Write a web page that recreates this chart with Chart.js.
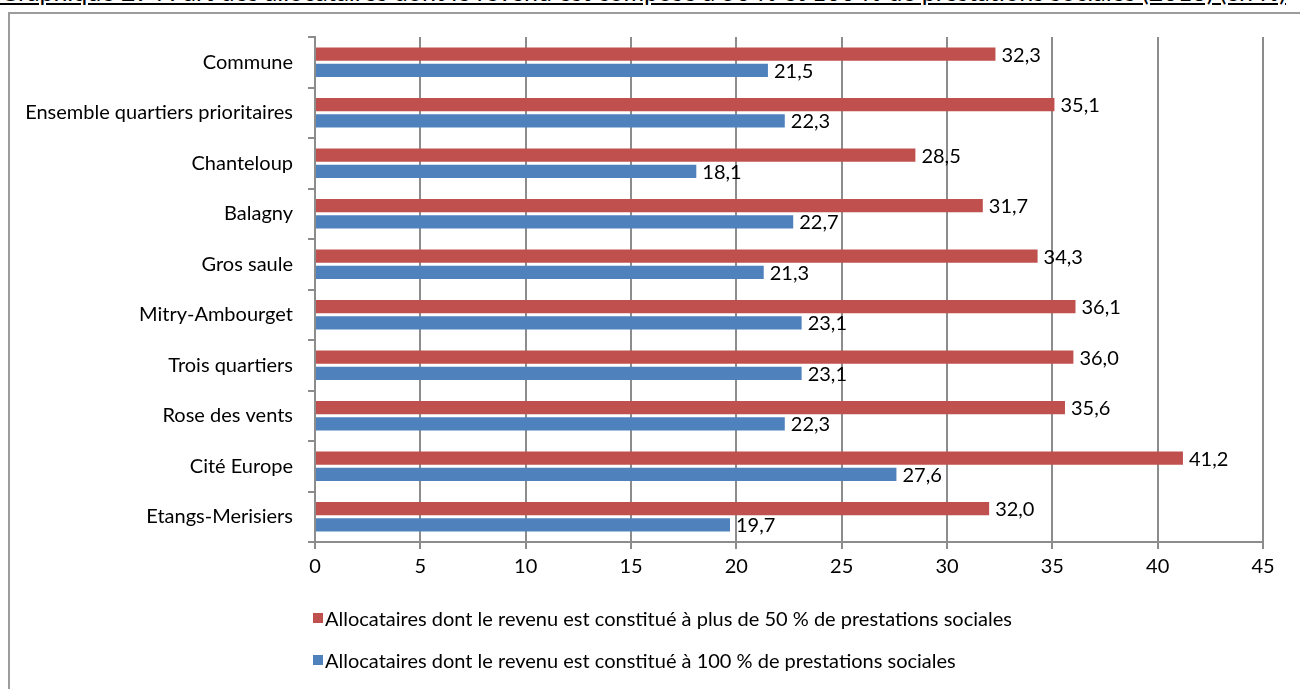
<!DOCTYPE html>
<html lang="fr">
<head>
<meta charset="utf-8">
<title>Graphique 29</title>
<script src="https://cdn.jsdelivr.net/npm/chart.js@4/dist/chart.umd.min.js"></script>
<style>
  html, body { margin: 0; padding: 0; background: #fff; }
  body { width: 1300px; height: 689px; position: relative; overflow: hidden; font-family: Lato, sans-serif; }
  #titre { position: absolute; left: 0; top: -21px; font-size: 25px; line-height: 25px; white-space: nowrap; text-decoration: underline; color: #000; }
  #cadre { position: absolute; left: 8px; top: 12px; width: 1400px; height: 800px; border-left: 2px solid #9c9c9c; border-top: 2px solid #9c9c9c; }
  #wrap { position: absolute; left: 0; top: 0; width: 1300px; height: 689px; }
  #legende { position: absolute; left: 313px; top: 0; font-size: 20px; color: #000; }
  .item { position: absolute; left: 0; white-space: nowrap; display: flex; align-items: center; }
  .item span.box { display: inline-block; width: 10px; height: 10px; margin-right: 2px; }
</style>
</head>
<body>
<div id="titre">Graphique 29 : Part des allocataires dont le revenu est composé à 50 % et 100 % de prestations sociales (2013) (en %)</div>
<div id="cadre"></div>
<div id="wrap"><canvas id="barChart" width="1300" height="689"></canvas></div>
<div id="legende"></div>
<script>
const quartiers = ['Commune', 'Ensemble quartiers prioritaires', 'Chanteloup', 'Balagny', 'Gros saule',
    'Mitry-Ambourget', 'Trois quartiers', 'Rose des vents', 'Cité Europe', 'Etangs-Merisiers']
const plus50 = [32.3, 35.1, 28.5, 31.7, 34.3, 36.1, 36.0, 35.6, 41.2, 32.0]
const cent = [21.5, 22.3, 18.1, 22.7, 21.3, 23.1, 23.1, 22.3, 27.6, 19.7]
const noms = ['Allocataires dont le revenu est constitué à plus de 50 % de prestations sociales',
    'Allocataires dont le revenu est constitué à 100 % de prestations sociales']
const couleurs = ['#C0504D', '#4F81BD']

const police = {family: 'Lato', size: 20}
const gris = '#8c8c8c'

// valeurs écrites au bout des barres, avec la virgule
const etiquettes = {
    id: 'etiquettes',
    afterDatasetsDraw(chart) {
        const ctx = chart.ctx
        ctx.save()
        ctx.font = police.size + 'px ' + police.family
        ctx.fillStyle = '#000'
        ctx.textAlign = 'left'
        ctx.textBaseline = 'middle'
        chart.data.datasets.forEach((ds, i) => {
            chart.getDatasetMeta(i).data.forEach((bar, j) => {
                ctx.fillText(ds.data[j].toFixed(1).replace('.', ','), bar.x + 6, bar.y + 1)
            })
        })
        ctx.restore()
    }
}

const ctxBar = document.getElementById('barChart').getContext('2d')
const chart = new Chart(ctxBar, {
    type: 'bar',
    data: {
        labels: quartiers,
        datasets: [{
            label: noms[0],
            data: plus50,
            backgroundColor: couleurs[0],
            categoryPercentage: 0.64,
            barPercentage: 0.82
        }, {
            label: noms[1],
            data: cent,
            backgroundColor: couleurs[1],
            categoryPercentage: 0.64,
            barPercentage: 0.82
        }]
    },
    options: {
        indexAxis: 'y',
        responsive: false,
        animation: false,
        layout: {padding: {left: 0, top: 37, right: 37, bottom: 105}},
        scales: {
            x: {
                min: 0,
                max: 45,
                ticks: {stepSize: 5, color: '#000', font: police, padding: 6},
                grid: {color: gris, lineWidth: 2, tickLength: 7},
                border: {color: gris, width: 2},
                afterFit(scale) { scale.height = 42 }
            },
            y: {
                ticks: {color: '#000', font: police, padding: 15},
                grid: {color: gris, lineWidth: 2, drawOnChartArea: false, tickLength: 7},
                border: {color: gris, width: 2},
                afterFit(scale) { scale.width = 315 }
            }
        },
        plugins: {
            legend: {display: false},
            tooltip: {enabled: false}
        }
    },
    plugins: [etiquettes]
})

// légende sur deux lignes, sous l'axe
const legende = document.getElementById('legende')
const lignes = [618, 660]
chart.data.datasets.forEach((ds, i) => {
    const item = document.createElement('div')
    item.className = 'item'
    item.style.top = (lignes[i] - 12) + 'px'
    item.style.height = '24px'
    item.innerHTML = '<span class="box" style="background:' + ds.backgroundColor + '"></span>' + ds.label
    legende.appendChild(item)
})
</script>
</body>
</html>
